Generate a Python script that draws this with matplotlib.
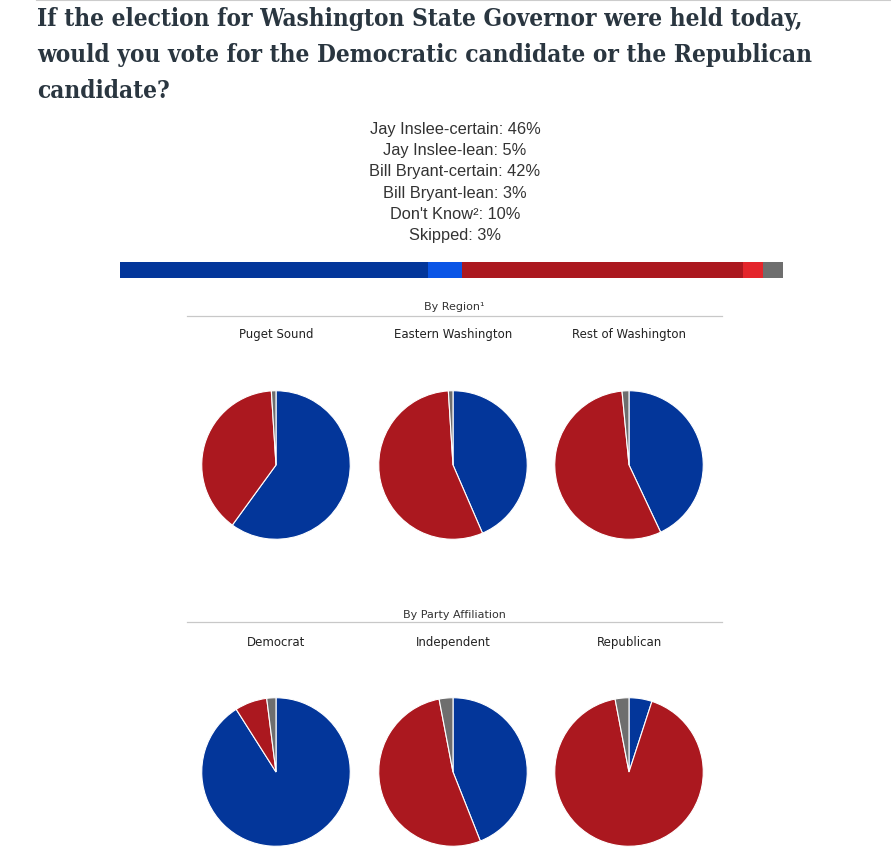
import matplotlib.pyplot as plt
import numpy as np

W, H = 891, 853

title = ("If the election for Washington State Governor were held today,\n"
         "would you vote for the Democratic candidate or the Republican\n"
         "candidate?")

# overall results
answer_labels = ["Jay Inslee-certain", "Jay Inslee-lean", "Bill Bryant-certain",
                 "Bill Bryant-lean", "Don't Know\u00b2", "Skipped"]
answer_values = [46, 5, 42, 3, 10, 3]
# segments shown in the bar (Don't Know is not drawn)
bar_labels = ["Jay Inslee-certain", "Jay Inslee-lean", "Bill Bryant-certain",
              "Bill Bryant-lean", "Skipped"]
bar_values = [46, 5, 42, 3, 3]
bar_colors = ["#03369a", "#0a55e6", "#ab181f", "#e4252b", "#6e6e6e"]

# pies: Inslee, Bryant, other
region_names = ["Puget Sound", "Eastern Washington", "Rest of Washington"]
region_inslee = [60, 43.5, 43]
region_bryant = [39, 55.5, 55.5]
region_other = [1, 1, 1.5]

party_names = ["Democrat", "Independent", "Republican"]
party_inslee = [91, 44, 5]
party_bryant = [7, 53, 92]
party_other = [2, 3, 3]

pie_colors = ["#03369a", "#ab181f", "#6e6e6e"]

fig = plt.figure(figsize=(W / 100, H / 100), dpi=100)


def box(x0, y0, x1, y1):
    return [x0 / W, 1 - y1 / H, (x1 - x0) / W, (y1 - y0) / H]


def fx(x):
    return x / W


def fy(y):
    return 1 - y / H


# top rule
fig.add_artist(plt.Line2D([fx(37), fx(891)], [fy(1), fy(1)], color="#cccccc", lw=1.5))

fig.text(fx(37), fy(7), title, ha="left", va="top", fontsize=17.5,
         fontweight="bold", family="DejaVu Serif", color="#2a3640",
         linespacing=1.62, fontstretch="condensed")

for i, (lab, val) in enumerate(zip(answer_labels, answer_values)):
    fig.text(fx(455), fy(129.5 + i * 21.2), f"{lab}: {val}%", ha="center", va="center",
             fontsize=11.8, family="Liberation Sans", color="#333333")

# stacked bar
axb = fig.add_axes(box(120, 263, 783, 279))
left = 0
for v, c in zip(bar_values, bar_colors):
    axb.barh(0, v, left=left, color=c, height=1, linewidth=0)
    left += v
axb.set_xlim(0, sum(bar_values))
axb.set_ylim(-0.5, 0.5)
axb.axis("off")


def section(heading, y_head, y_line, y_names, y_center, names, ins, bry, oth):
    fig.text(fx(454), fy(y_head), heading, ha="center", va="center",
             fontsize=8, family="DejaVu Sans", color="#333333")
    fig.add_artist(plt.Line2D([fx(187), fx(722)], [fy(y_line), fy(y_line)],
                              color="#c8c8c8", lw=0.9))
    for k, cx in enumerate([276, 453, 629]):
        fig.text(fx(cx), fy(y_names), names[k], ha="center", va="center",
                 fontsize=8.5, family="DejaVu Sans", color="#222222")
        r = 75
        ax = fig.add_axes(box(cx - r, y_center - r, cx + r, y_center + r))
        ax.pie([ins[k], bry[k], oth[k]], colors=pie_colors, startangle=90,
               counterclock=False, radius=1,
               wedgeprops=dict(edgecolor="white", linewidth=0.8))
        ax.set_xlim(-1.01, 1.01)
        ax.set_ylim(-1.01, 1.01)
        ax.set_aspect("equal")
        ax.axis("off")


section("By Region\u00b9", 307.5, 317, 334.5, 466, region_names,
        region_inslee, region_bryant, region_other)
section("By Party Affiliation", 615.5, 623, 642.5, 773, party_names,
        party_inslee, party_bryant, party_other)

fig.savefig("out.png", dpi=100, facecolor="white")
